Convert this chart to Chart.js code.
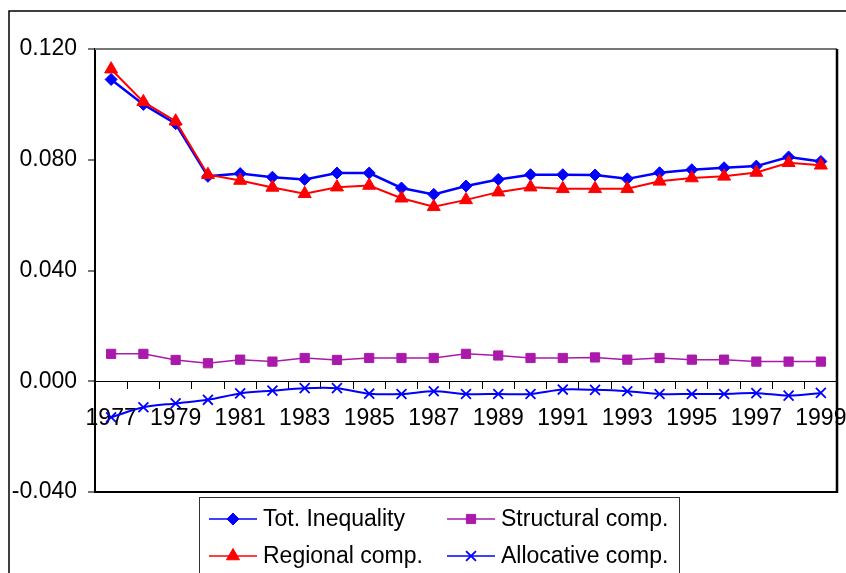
<!DOCTYPE html>
<html>
<head>
<meta charset="utf-8">
<script src="https://cdn.jsdelivr.net/npm/chart.js@4/dist/chart.umd.min.js"></script>
<style>
  html, body { margin: 0; padding: 0; background: #fff; }
  #wrap { width: 846px; height: 573px; position: relative; }
</style>
</head>
<body>
<div id="wrap"><canvas id="chart" width="846" height="573"></canvas></div>
<script>
// DATA
const years = ["1977","1978","1979","1980","1981","1982","1983","1984","1985","1986","1987","1988","1989","1990","1991","1992","1993","1994","1995","1996","1997","1998","1999"];
const totInequality = [0.109,0.100,0.093,0.074,0.075,0.0737,0.0729,0.0752,0.0752,0.0698,0.0675,0.0705,0.0729,0.0746,0.0746,0.0745,0.0731,0.0753,0.0764,0.0771,0.0777,0.0810,0.0794];
const regionalComp = [0.1127,0.1009,0.0939,0.0746,0.0725,0.0700,0.0677,0.0701,0.0707,0.0661,0.0630,0.0655,0.0683,0.0701,0.0695,0.0695,0.0695,0.0722,0.0734,0.0740,0.0754,0.0789,0.0780];
const structuralComp = [0.0099,0.0099,0.0077,0.0065,0.0078,0.0071,0.0084,0.0077,0.0084,0.0084,0.0084,0.0099,0.0093,0.0084,0.0084,0.0086,0.0078,0.0084,0.0078,0.0078,0.0071,0.0071,0.0071];
const allocativeComp = [-0.0130,-0.0094,-0.0080,-0.0067,-0.0044,-0.0034,-0.0025,-0.0025,-0.0045,-0.0046,-0.0036,-0.0046,-0.0046,-0.0046,-0.0030,-0.0031,-0.0036,-0.0046,-0.0046,-0.0046,-0.0043,-0.0052,-0.0042];
const yTicks = [-0.04, 0, 0.04, 0.08, 0.12];

const FONT = "'Liberation Sans', Arial, sans-serif";
const FSIZE = 23;
const BLUE = "#0000ff", RED = "#ff0000", PURPLE = "#aa1aaa";

// frame around the whole figure + plot area border
const framePlugin = {
  id: "frame",
  beforeDraw(chart) {
    const c = chart.ctx;
    c.save();
    c.strokeStyle = "#000";
    c.lineWidth = 1.5;
    c.beginPath();
    c.moveTo(9, 573); c.lineTo(9, 11); c.lineTo(846, 11);
    c.stroke();
    c.restore();
  },
  beforeDatasetsDraw(chart) {
    const a = chart.chartArea, c = chart.ctx;
    c.save();
    c.lineWidth = 2;
    c.strokeStyle = "#777";
    c.beginPath(); c.moveTo(a.left, a.top); c.lineTo(a.right, a.top); c.stroke();
    c.strokeStyle = "#000";
    c.lineWidth = 2.5;
    c.beginPath(); c.moveTo(a.right, a.top); c.lineTo(a.right, a.bottom + 1); c.stroke();
    c.lineWidth = 2;
    c.beginPath(); c.moveTo(a.left, a.bottom); c.lineTo(a.right + 1, a.bottom); c.stroke();
    c.restore();
  }
};

// two-column legend in a box, like the original
const legendBox = {
  id: "legendBox",
  afterDraw(chart) {
    const c = chart.ctx;
    c.save();
    c.strokeStyle = "#333";
    c.lineWidth = 1;
    c.strokeRect(199.5, 497.5, 480, 100);
    const slots = [[209, 519], [209, 556], [447, 519], [447, 556]]; // tot, regional, structural, allocative
    chart.data.datasets.forEach((ds, i) => {
      const [x, y] = slots[i];
      c.strokeStyle = ds.borderColor;
      c.lineWidth = 1.5;
      c.beginPath(); c.moveTo(x, y); c.lineTo(x + 48, y); c.stroke();
      c.fillStyle = ds.pointBackgroundColor;
      c.strokeStyle = ds.pointBorderColor;
      c.lineWidth = ds.pointBorderWidth;
      Chart.helpers.drawPoint(c, { pointStyle: ds.pointStyle, radius: ds.pointRadius, borderWidth: ds.pointBorderWidth, rotation: 0 }, x + 24, y);
      c.fillStyle = "#000";
      c.font = FSIZE + "px " + FONT;
      c.textBaseline = "middle";
      c.fillText(ds.label, x + 54, y + 1);
    });
    c.restore();
  }
};

const ctx = document.getElementById("chart").getContext("2d");
new Chart(ctx, {
  type: "line",
  data: {
    labels: years,
    datasets: [
      { label: "Tot. Inequality", data: totInequality, order: 1,
        borderColor: BLUE, borderWidth: 2.5, pointStyle: "rectRot", pointRadius: 6,
        pointBackgroundColor: BLUE, pointBorderColor: BLUE, pointBorderWidth: 1 },
      { label: "Regional comp.", data: regionalComp, order: 0,
        borderColor: RED, borderWidth: 2, pointStyle: "triangle", pointRadius: 7.5,
        pointBackgroundColor: RED, pointBorderColor: RED, pointBorderWidth: 1 },
      { label: "Structural comp.", data: structuralComp, order: 2,
        borderColor: PURPLE, borderWidth: 1.5, pointStyle: "rect", pointRadius: 6.5,
        pointBackgroundColor: PURPLE, pointBorderColor: PURPLE, pointBorderWidth: 1 },
      { label: "Allocative comp.", data: allocativeComp, order: 3, tension: 0.3,
        borderColor: BLUE, borderWidth: 2, pointStyle: "crossRot", pointRadius: 7,
        pointBackgroundColor: BLUE, pointBorderColor: BLUE, pointBorderWidth: 1.8 }
    ]
  },
  options: {
    responsive: false,
    animation: false,
    layout: { padding: { left: 0, top: 49, right: 9, bottom: 81 } },
    plugins: { legend: { display: false }, tooltip: { enabled: false } },
    scales: {
      x: {
        position: { y: 0 },
        offset: true,
        afterFit: s => { s.paddingLeft = 0; s.paddingRight = 0; },
        grid: { offset: true, drawOnChartArea: false, drawTicks: true, tickLength: 7, color: "#000", lineWidth: 1 },
        border: { display: true, color: "#000", width: 1 },
        ticks: {
          autoSkip: false, maxRotation: 0, minRotation: 0, padding: 17, color: "#000",
          font: { family: FONT, size: FSIZE },
          callback: (v, i) => (i % 2 === 0 ? years[i] : "")
        }
      },
      y: {
        min: -0.04, max: 0.12,
        afterBuildTicks: s => { s.ticks = yTicks.map(v => ({ value: v })); },
        afterFit: s => { s.width = 95; },
        grid: { drawOnChartArea: false, drawTicks: true, tickLength: 7, color: "#777", lineWidth: 2 },
        border: { display: true, color: "#000", width: 2 },
        ticks: {
          padding: 11, color: "#000",
          font: { family: FONT, size: FSIZE },
          callback: v => v.toFixed(3)
        }
      }
    }
  },
  plugins: [framePlugin, legendBox]
});
</script>
</body>
</html>
